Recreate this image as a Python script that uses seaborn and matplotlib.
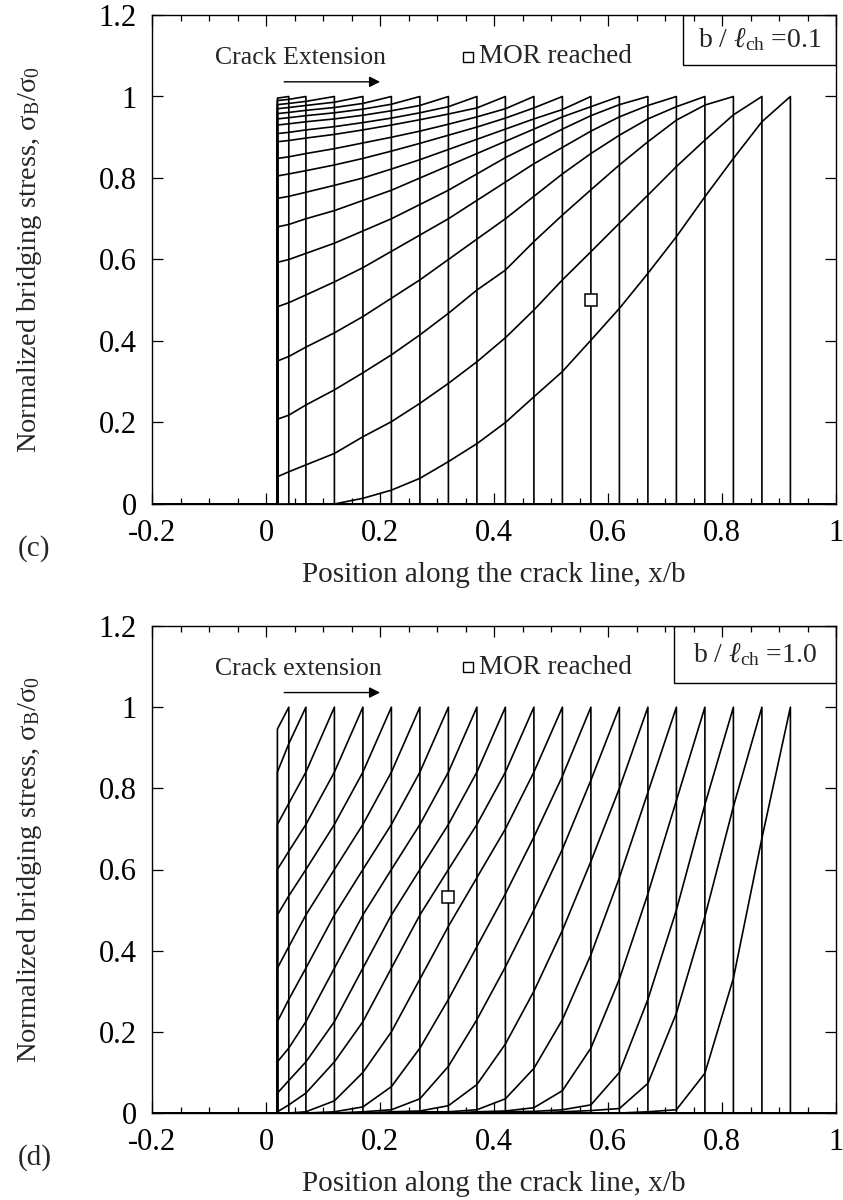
import numpy as np
import pandas as pd
import matplotlib
matplotlib.use("Agg")
import matplotlib.pyplot as plt
from matplotlib.patches import Rectangle
from matplotlib.ticker import MultipleLocator
import seaborn as sns

# ---------------- data ----------------
# crack-tip positions (x/b); first entry is the notch tip
tip_positions = [0.02, 0.04, 0.07, 0.12, 0.17, 0.22, 0.27, 0.32, 0.37, 0.42,
                 0.47, 0.52, 0.57, 0.62, 0.67, 0.72, 0.77, 0.82, 0.87, 0.92]

# panel (c) b/l_ch = 0.1 : stress values at tip_positions[0..k] for crack tip k
c_curves = [
    [0.996, 1.0],
    [0.99, 0.993, 1.0],
    [0.98, 0.983, 0.988, 1.0],
    [0.97, 0.973, 0.978, 0.986, 1.0],
    [0.958, 0.961, 0.966, 0.973, 0.983, 1.0],
    [0.945, 0.948, 0.953, 0.96, 0.969, 0.981, 1.0],
    [0.93, 0.933, 0.938, 0.945, 0.954, 0.965, 0.978, 1.0],
    [0.909, 0.912, 0.918, 0.926, 0.936, 0.947, 0.96, 0.975, 1.0],
    [0.889, 0.892, 0.898, 0.907, 0.918, 0.93, 0.943, 0.957, 0.972, 1.0],
    [0.848, 0.852, 0.86, 0.872, 0.886, 0.90, 0.915, 0.932, 0.95, 0.97, 1.0],
    [0.805, 0.81, 0.818, 0.832, 0.848, 0.866, 0.885, 0.905, 0.925, 0.947, 0.972, 1.0],
    [0.75, 0.755, 0.765, 0.782, 0.80, 0.822, 0.845, 0.87, 0.895, 0.92, 0.945, 0.968, 1.0],
    [0.68, 0.686, 0.70, 0.72, 0.745, 0.77, 0.80, 0.83, 0.86, 0.89, 0.92, 0.95, 0.975, 1.0],
    [0.593, 0.60, 0.615, 0.64, 0.67, 0.70, 0.735, 0.77, 0.81, 0.85, 0.885, 0.92, 0.953, 0.98, 1.0],
    [0.484, 0.494, 0.513, 0.545, 0.58, 0.62, 0.66, 0.70, 0.745, 0.79, 0.835, 0.875, 0.915, 0.95, 0.978, 1.0],
    [0.351, 0.362, 0.385, 0.42, 0.46, 0.505, 0.55, 0.60, 0.65, 0.70, 0.755, 0.81, 0.86, 0.905, 0.945, 0.975, 1.0],
    [0.208, 0.218, 0.243, 0.280, 0.322, 0.366, 0.415, 0.468, 0.525, 0.574, 0.644, 0.709, 0.771, 0.832, 0.889, 0.942, 0.979, 1.0],
    [0.067, 0.079, 0.096, 0.124, 0.165, 0.202, 0.247, 0.296, 0.349, 0.408, 0.476, 0.550, 0.619, 0.689, 0.758, 0.828, 0.893, 0.955, 1.0],
    [0.0, 0.0, 0.0, 0.0, 0.014, 0.034, 0.063, 0.104, 0.148, 0.200, 0.263, 0.325, 0.402, 0.480, 0.566, 0.656, 0.754, 0.848, 0.938, 1.0],
]

# panel (d) b/l_ch = 1.0
d_curves = [
    [0.946, 1.0],
    [0.84, 0.91, 1.0],
    [0.711, 0.763, 0.84, 1.0],
    [0.60, 0.645, 0.711, 0.84, 1.0],
    [0.488, 0.535, 0.60, 0.711, 0.84, 1.0],
    [0.357, 0.41, 0.488, 0.60, 0.711, 0.84, 1.0],
    [0.225, 0.28, 0.357, 0.488, 0.60, 0.711, 0.84, 1.0],
    [0.126, 0.16, 0.225, 0.357, 0.488, 0.60, 0.711, 0.84, 1.0],
    [0.049, 0.08, 0.126, 0.225, 0.357, 0.488, 0.60, 0.711, 0.84, 1.0],
    [0.003, 0.02, 0.049, 0.126, 0.225, 0.357, 0.488, 0.60, 0.711, 0.84, 1.0],
    [0.0, 0.0, 0.003, 0.03, 0.10, 0.20, 0.33, 0.46, 0.58, 0.70, 0.84, 1.0],
    [0.0, 0.0, 0.0, 0.003, 0.015, 0.065, 0.16, 0.28, 0.41, 0.54, 0.68, 0.83, 1.0],
    [0.0, 0.0, 0.0, 0.0, 0.003, 0.008, 0.035, 0.115, 0.23, 0.36, 0.50, 0.65, 0.82, 1.0],
    [0.0, 0.0, 0.0, 0.0, 0.0, 0.003, 0.005, 0.018, 0.07, 0.17, 0.30, 0.45, 0.62, 0.80, 1.0],
    [0.0, 0.0, 0.0, 0.0, 0.0, 0.0, 0.003, 0.003, 0.008, 0.035, 0.11, 0.23, 0.39, 0.58, 0.79, 1.0],
    [0.0, 0.0, 0.0, 0.0, 0.0, 0.0, 0.0, 0.0, 0.003, 0.005, 0.013, 0.055, 0.16, 0.33, 0.54, 0.77, 1.0],
    [0.0, 0.0, 0.0, 0.0, 0.0, 0.0, 0.0, 0.0, 0.0, 0.003, 0.004, 0.008, 0.02, 0.10, 0.28, 0.50, 0.76, 1.0],
    [0.0, 0.0, 0.0, 0.0, 0.0, 0.0, 0.0, 0.0, 0.0, 0.0, 0.0, 0.003, 0.006, 0.011, 0.073, 0.246, 0.484, 0.755, 1.0],
    [0.0, 0.0, 0.0, 0.0, 0.0, 0.0, 0.0, 0.0, 0.0, 0.0, 0.0, 0.0, 0.0, 0.0, 0.003, 0.008, 0.098, 0.332, 0.677, 1.0],
]

mor_c = (0.570, 0.50)
mor_d = (0.320, 0.533)

x_ticks = [-0.2, 0, 0.2, 0.4, 0.6, 0.8, 1]
x_ticklabels = ["-0.2", "0", "0.2", "0.4", "0.6", "0.8", "1"]
y_ticks = [0, 0.2, 0.4, 0.6, 0.8, 1, 1.2]
y_ticklabels = ["0", "0.2", "0.4", "0.6", "0.8", "1", "1.2"]


def build_frame(curves):
    rows = []
    notch = tip_positions[0]
    for k, vals in enumerate(curves):
        tip = tip_positions[k + 1]
        xs = [-0.2, notch] + tip_positions[:len(vals)] + [tip, 1.0]
        ys = [0.0, 0.0] + list(vals) + [0.0, 0.0]
        for o, (x, y) in enumerate(zip(xs, ys)):
            rows.append({"curve": k, "order": o, "x": x, "y": y})
    return pd.DataFrame(rows)


sns.set_theme(style="ticks")
plt.rcParams["font.family"] = ["Liberation Serif", "DejaVu Serif"]
plt.rcParams["mathtext.fontset"] = "custom"
plt.rcParams["mathtext.rm"] = "Liberation Serif"
plt.rcParams["mathtext.it"] = "Liberation Serif:italic"

W, H = 843, 1200
fig = plt.figure(figsize=(W / 100, H / 100), dpi=100)

panels = [
    dict(curves=c_curves, mor=mor_c, top=15, bottom=504, tag="(c)",
         ratio="0.1", ctext="Crack Extension", box_left=0.731, box_bot=1.077),
    dict(curves=d_curves, mor=mor_d, top=626, bottom=1113, tag="(d)",
         ratio="1.0", ctext="Crack extension", box_left=0.715, box_bot=1.06),
]

FS = 22
LEFT, RIGHT = 152, 836
for p in panels:
    ax = fig.add_axes([LEFT / W, 1 - p["bottom"] / H, (RIGHT - LEFT) / W,
                       (p["bottom"] - p["top"]) / H])
    df = build_frame(p["curves"])
    sns.lineplot(data=df, x="x", y="y", units="curve", estimator=None,
                 sort=False, color="black", lw=1.2, ax=ax, legend=False)
    ax.plot([p["mor"][0]], [p["mor"][1]], marker="s", ms=9, mfc="white",
            mec="black", mew=1.1, ls="none", zorder=5)
    ax.set_xlim(-0.2, 1.0)
    ax.set_ylim(0, 1.2)
    ax.set_xticks(x_ticks)
    ax.set_xticklabels(x_ticklabels)
    ax.set_yticks(y_ticks)
    ax.set_yticklabels(y_ticklabels)
    ax.xaxis.set_minor_locator(MultipleLocator(0.05))
    ax.tick_params(which="both", direction="in", top=True, right=True,
                   colors="black", width=0.9)
    ax.tick_params(which="major", length=8, labelsize=FS)
    ax.tick_params(which="minor", length=4)
    ax.tick_params(axis="x", which="major", pad=11)
    ax.tick_params(axis="y", which="major", pad=11)
    for s in ax.spines.values():
        s.set_color("black")
        s.set_linewidth(1.0)
    ax.set_xlabel("Position along the crack line, x/b", fontsize=21, labelpad=10)
    ax.set_ylabel("Normalized bridging stress, $\\mathrm{σ_B/σ_0}$", fontsize=20.5)
    ax.yaxis.set_label_coords(-0.158, 0.5)

    # annotations
    ax.text(-0.09, 1.094, p["ctext"], fontsize=18.5, ha="left", va="center")
    ax.annotate("", xy=(0.205, 1.036), xytext=(0.027, 1.036),
                arrowprops=dict(arrowstyle="-|>", color="black", lw=1.0,
                                mutation_scale=16))
    ax.plot([0.354], [1.098], marker="s", ms=7, mfc="white", mec="black",
            mew=1.0, ls="none", clip_on=False)
    ax.text(0.374, 1.098, "MOR reached", fontsize=19.5, ha="left", va="center")
    ax.add_patch(Rectangle((p["box_left"], p["box_bot"]), 1.0 - p["box_left"],
                           1.2 - p["box_bot"], fill=False, ec="black", lw=1.0))
    ax.text((p["box_left"] + 1.0) / 2, (p["box_bot"] + 1.2) / 2,
            "b / $\\ell_{\\mathrm{ch}}$ =" + p["ratio"], fontsize=20,
            ha="center", va="center")
    fig.text(18 / W, 1 - (p["bottom"] + 45) / H, p["tag"], fontsize=21,
             ha="left", va="center")

fig.savefig("out.png", dpi=100)
